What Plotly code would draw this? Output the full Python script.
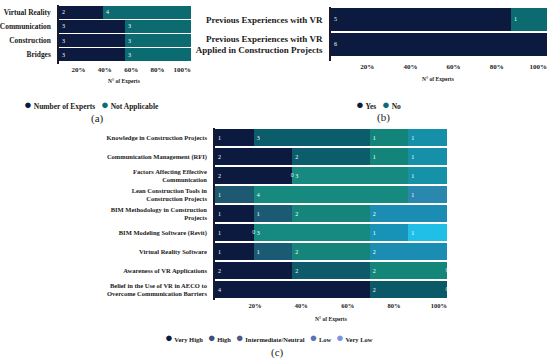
import plotly.graph_objects as go

# ---------------- data ----------------
# Panel (a)
a_categories = ["Virtual Reality", "Communication", "Construction", "Bridges"]
a_experts = [2, 3, 3, 3]
a_not_applicable = [4, 3, 3, 3]

# Panel (b)
b_categories = ["Previous Experiences with VR",
                "Previous Experiences with VR<br>Applied in Construction Projects"]
b_yes = [5, 6]
b_no = [1, None]

# Panel (c)
c_categories = ["Knowledge in Construction Projects",
                "Communication Management (RFI)",
                "Factors Affecting Effective<br>Communication",
                "Lean Construction Tools in<br>Construction Projects",
                "BIM Methodology in Construction<br>Projects",
                "BIM Modeling Software (Revit)",
                "Virtual Reality Software",
                "Awareness of VR Applications",
                "Belief in the Use of VR in AECO to<br>Overcome Communication Barriers"]
c_very_high = [1, 2, 2, None, 1, 1, 1, 2, 4]
c_high = [3, 2, 0, 1, 1, 0, 1, 2, 2]
c_intermediate = [1, 1, 3, 4, 2, 3, 2, 2, 0]
c_low = [1, 1, 1, 1, 2, 1, 2, 0, None]
c_very_low = [None, None, None, None, None, 1, None, None, None]

tick_values = [20, 40, 60, 80, 100]
tick_labels = ["20%", "40%", "60%", "80%", "100%"]
axis_title = "N° of Experts"

# ---------------- styles ----------------
SERIF = "Liberation Serif"
NAVY = "#0b1a3e"
TEAL = "#0c6b70"
c_colors = {
    "Very High": [NAVY] * 9,
    "High": ["#0b5d6b", "#0b5d6b", "#0b5d6b", "#1d5a72", "#1b5a73", "#0b5d6b", "#1b5a73", "#0d5a6b", "#0b5868"],
    "Intermediate/Neutral": ["#13847a", "#13847a", "#168a80", "#178a80", "#15857c", "#168a80", "#15857c", "#138579", "#138579"],
    "Low": ["#1590a8", "#1590a8", "#1592a8", "#2a87ae", "#1c8db2", "#1693b6", "#1b8db2", "#1590a8", "#1590a8"],
    "Very Low": ["#1fbfe8"] * 9,
}
c_legend_colors = {"Very High": NAVY, "High": "#3b4e7c", "Intermediate/Neutral": "#4a5a85",
                   "Low": "#5a72b8", "Very Low": "#7b93e0"}

W, H = 550, 361
def px(x): return x / W
def py(y): return 1 - y / H

fig = go.Figure()

def add_stack(series, cats, xa, ya, colors):
    n = len(cats)
    totals = [sum(v[i] for _, v in series if v[i] is not None) for i in range(n)]
    cum = [0.0] * n
    zx, zy = [], []
    for idx, (name, vals) in enumerate(series):
        xs, ys, txt, cols = [], [], [], []
        for i in range(n):
            v = vals[i]
            if v is None:
                continue
            pct = v / totals[i] * 100
            if v == 0:
                zx.append(cum[i]); zy.append(cats[i])
            xs.append(pct); ys.append(cats[i]); txt.append(str(v) if v > 0 else "")
            cols.append(colors[idx][i] if isinstance(colors[idx], list) else colors[idx])
            cum[i] += pct
        fig.add_trace(go.Bar(x=xs, y=ys, orientation="h", name=name, text=txt,
                             textposition="inside", insidetextanchor="start",
                             textfont=dict(family=SERIF, size=6, color="white"),
                             marker=dict(color=cols, line=dict(width=0)),
                             xaxis=xa, yaxis=ya, showlegend=False, hoverinfo="skip"))
    if zx:
        fig.add_trace(go.Scatter(x=zx, y=zy, mode="text", text=["0"] * len(zx),
                                 textposition="middle center", cliponaxis=False,
                                 textfont=dict(family=SERIF, size=6, color="#dff3f5"),
                                 xaxis=xa, yaxis=ya, showlegend=False, hoverinfo="skip"))

add_stack([("Number of Experts", a_experts), ("Not Applicable", a_not_applicable)],
          a_categories, "x", "y", [NAVY, TEAL])
add_stack([("Yes", b_yes), ("No", b_no)], b_categories, "x2", "y2", [NAVY, TEAL])
add_stack([("Very High", c_very_high), ("High", c_high), ("Intermediate/Neutral", c_intermediate),
           ("Low", c_low), ("Very Low", c_very_low)], c_categories, "x3", "y3",
          [c_colors[k] for k in ["Very High", "High", "Intermediate/Neutral", "Low", "Very Low"]])

def xcfg(domain, anchor, size):
    return dict(domain=domain, anchor=anchor, range=[0, 100], tickvals=tick_values, ticktext=tick_labels,
                ticklabelposition="outside left", showgrid=False, zeroline=False, showline=False, ticks="",
                tickfont=dict(family=SERIF, size=size, color="#222222", weight="bold"), fixedrange=True)

def ycfg(domain, anchor, cats, pad, size):
    n = len(cats)
    return dict(domain=domain, anchor=anchor, type="category", categoryarray=cats,
                range=[n - 0.5 + pad, -0.5], showgrid=False, zeroline=False, showline=True,
                linecolor="#1a1a2a", linewidth=1.5, ticks="", ticklabelstandoff=5,
                tickfont=dict(family=SERIF, size=size, color="#1a1a1a", weight="bold"), fixedrange=True)

fig.update_layout(
    width=W, height=H, autosize=False, margin=dict(l=0, r=0, t=0, b=0),
    paper_bgcolor="white", plot_bgcolor="white", barmode="stack", bargap=0.1,
    xaxis=xcfg([px(59), px(191)], "y", 7),
    yaxis=ycfg([py(64), py(5)], "x", a_categories, 0.14, 7.4),
    xaxis2=xcfg([px(331), px(547)], "y2", 7),
    yaxis2=ycfg([py(61), py(7)], "x2", b_categories, 0.17, 9),
    xaxis3=xcfg([px(215), px(447)], "y3", 6.5),
    yaxis3=ycfg([py(300), py(128)], "x3", c_categories, 0.03, 6.5),
)

def legend_text(items, colors, gap):
    parts = []
    for it in items:
        parts.append(f'<span style="color:{colors[it]};font-size:13px">●</span> {it}')
    return ("&nbsp;" * gap).join(parts)

annos = [
    dict(x=px(124), y=py(81), text=axis_title, size=5.5, bold=True),
    dict(x=px(438), y=py(79), text=axis_title, size=5.5, bold=True),
    dict(x=px(331), y=py(319), text=axis_title, size=5.5, bold=True),
    dict(x=px(91), y=py(104), text=legend_text(["Number of Experts", "Not Applicable"],
                                                {"Number of Experts": NAVY, "Not Applicable": TEAL}, 3),
         size=7.5, bold=True),
    dict(x=px(378), y=py(104), text=legend_text(["Yes", "No"], {"Yes": NAVY, "No": TEAL}, 3),
         size=7.5, bold=True),
    dict(x=px(269), y=py(337), text=legend_text(list(c_legend_colors.keys()), c_legend_colors, 3),
         size=6.5, bold=True),
    dict(x=px(97), y=py(119), text="(a)", size=11, bold=False),
    dict(x=px(383), y=py(117), text="(b)", size=11, bold=False),
    dict(x=px(277), y=py(352), text="(c)", size=11, bold=False),
]
for a in annos:
    fig.add_annotation(x=a["x"], y=a["y"], xref="paper", yref="paper", text=a["text"], showarrow=False,
                       xanchor="center", yanchor="middle",
                       font=dict(family=SERIF, size=a["size"], color="#1a1a1a",
                                 weight="bold" if a["bold"] else "normal"))

fig.write_html("out.html", config={"displayModeBar": False},
               post_script="document.body.style.margin='0';")
